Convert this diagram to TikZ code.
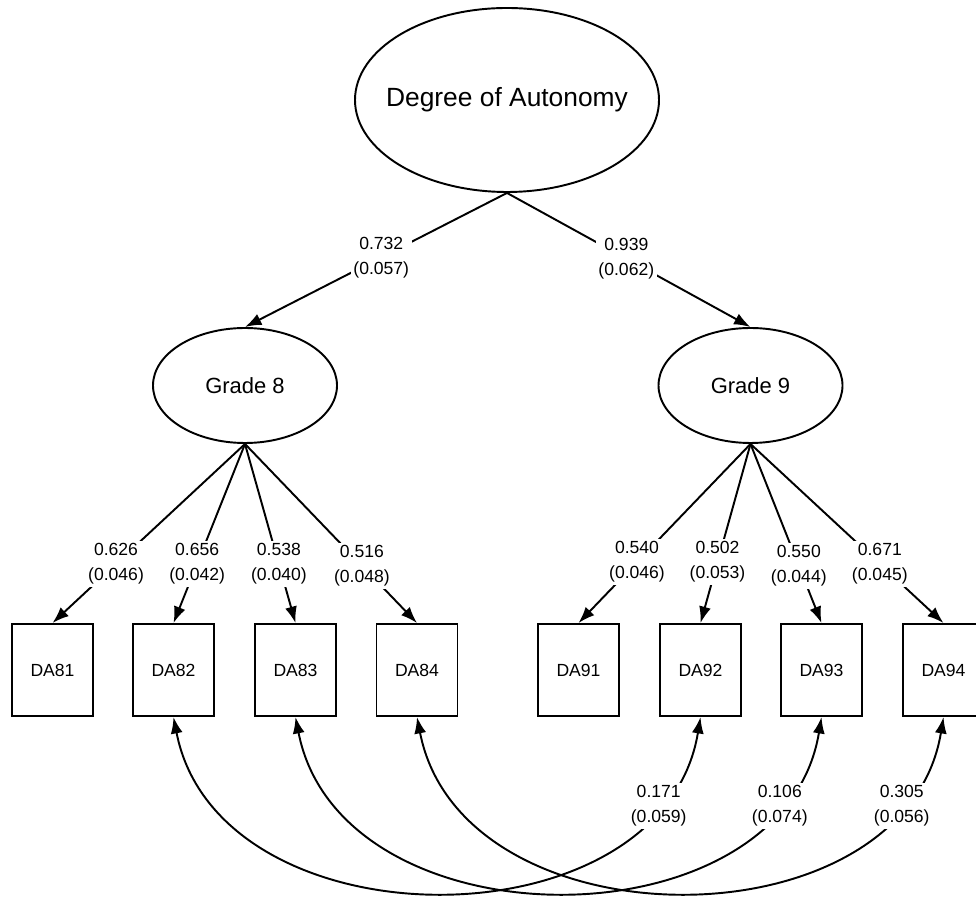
\documentclass[tikz,border=0pt]{standalone}
\usepackage{fontspec}
\setmainfont{Liberation Sans}
\usepackage{tikz}
\usetikzlibrary{shapes.geometric}
\usetikzlibrary{arrows.meta}

\tikzset{
  latent/.style={draw, ellipse, inner sep=0pt},
  item/.style={draw, rectangle, minimum width=16.2mm, minimum height=18.4mm, inner sep=0pt, font=\fontsize{10}{12}\selectfont},
  est/.style={fill=white, align=center, inner sep=1.5pt, font=\fontsize{10}{14.2}\selectfont},
}

\begin{document}
\begin{tikzpicture}[x=0.2mm, y=0.2mm, line width=1.1pt, >={Latex[length=3.3mm,width=2.4mm]}]
    \useasboundingbox (0,0) rectangle (976,896);
    \node[latent, minimum width=60.8mm, minimum height=36.8mm, label={[font=\fontsize{15}{18}\selectfont]center:Degree of Autonomy}] (deg) at (507,796) {};
    \node[latent, minimum width=36.8mm, minimum height=23mm, label={[font=\fontsize{12.5}{15}\selectfont]center:Grade 8}] (g8) at (245,510.5) {};
    \node[latent, minimum width=36.8mm, minimum height=23mm, label={[font=\fontsize{12.5}{15}\selectfont]center:Grade 9}] (g9) at (750.5,510.5) {};
    \node[item] (DA81) at (52.5,226) {DA81};
    \node[item] (DA82) at (173.5,226) {DA82};
    \node[item] (DA83) at (295.5,226) {DA83};
    \node[item] (DA84) at (417,226) {DA84};
    \node[item] (DA91) at (578.5,226) {DA91};
    \node[item] (DA92) at (700.5,226) {DA92};
    \node[item] (DA93) at (821.5,226) {DA93};
    \node[item] (DA94) at (943.5,226) {DA94};
    \draw[->] (deg.south) -- (g8.north) node[pos=0.48, est] {0.732\\(0.057)};
    \draw[->] (deg.south) -- (g9.north) node[pos=0.49, est] {0.939\\(0.062)};
    \draw[->] (g8.south) -- (DA81.north) node[pos=0.67, est] {0.626\\(0.046)};
    \draw[->] (g8.south) -- (DA82.north) node[pos=0.67, est] {0.656\\(0.042)};
    \draw[->] (g8.south) -- (DA83.north) node[pos=0.67, est] {0.538\\(0.040)};
    \draw[->] (g8.south) -- (DA84.north) node[pos=0.68, est] {0.516\\(0.048)};
    \draw[->] (g9.south) -- (DA91.north) node[pos=0.66, est] {0.540\\(0.046)};
    \draw[->] (g9.south) -- (DA92.north) node[pos=0.66, est] {0.502\\(0.053)};
    \draw[->] (g9.south) -- (DA93.north) node[pos=0.68, est] {0.550\\(0.044)};
    \draw[->] (g9.south) -- (DA94.north) node[pos=0.67, est] {0.671\\(0.045)};
    \draw[<->] (DA82.south) .. controls +(45,-232) and +(-38,-232) .. (DA92.south) node[pos=0.85, est] {0.171\\(0.059)};
    \draw[<->] (DA83.south) .. controls +(45,-232) and +(-38,-232) .. (DA93.south) node[pos=0.85, est] {0.106\\(0.074)};
    \draw[<->] (DA84.south) .. controls +(45,-232) and +(-38,-232) .. (DA94.south) node[pos=0.85, est] {0.305\\(0.056)};
\end{tikzpicture}
\end{document}
